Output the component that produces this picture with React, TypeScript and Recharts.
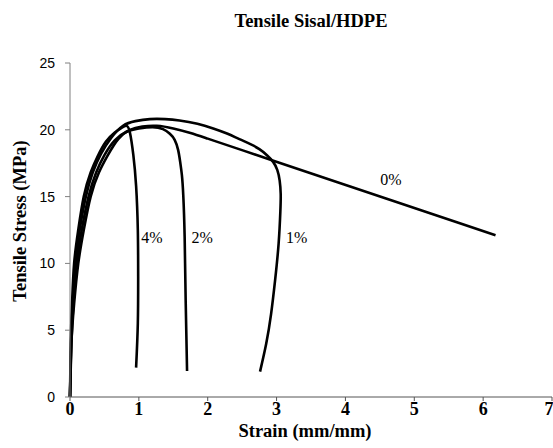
import React from 'react';
import { LineChart, Line, XAxis, YAxis, ReferenceDot, Label } from 'recharts';

const xTicks = [0, 1, 2, 3, 4, 5, 6, 7];
const yTicks = [0, 5, 10, 15, 20, 25];

const curve4 = [
  { x: 0, y: 0 }, { x: 0.01, y: 4 }, { x: 0.03, y: 7 }, { x: 0.06, y: 10 }, { x: 0.12, y: 12.5 },
  { x: 0.2, y: 15 }, { x: 0.3, y: 16.8 }, { x: 0.4, y: 18 }, { x: 0.52, y: 19.1 }, { x: 0.65, y: 19.8 },
  { x: 0.75, y: 20.15 }, { x: 0.82, y: 20.3 }, { x: 0.87, y: 19.8 }, { x: 0.92, y: 18.1 },
  { x: 0.96, y: 15.8 }, { x: 0.985, y: 12.5 }, { x: 0.99, y: 9 }, { x: 0.985, y: 5.5 }, { x: 0.96, y: 2.2 },
];

const curve2 = [
  { x: 0, y: 0 }, { x: 0.02, y: 4 }, { x: 0.05, y: 7 }, { x: 0.1, y: 10 }, { x: 0.17, y: 12.5 },
  { x: 0.27, y: 15 }, { x: 0.38, y: 16.8 }, { x: 0.5, y: 18.1 }, { x: 0.65, y: 19.2 }, { x: 0.82, y: 19.85 },
  { x: 1.0, y: 20.1 }, { x: 1.2, y: 20.2 }, { x: 1.35, y: 20.05 }, { x: 1.45, y: 19.7 }, { x: 1.52, y: 19.25 },
  { x: 1.57, y: 18.5 }, { x: 1.6, y: 17.6 }, { x: 1.625, y: 16.6 }, { x: 1.645, y: 15.1 }, { x: 1.665, y: 12 },
  { x: 1.68, y: 7.2 }, { x: 1.7, y: 1.95 },
];

const curve1 = [
  { x: 0, y: 0 }, { x: 0.015, y: 4 }, { x: 0.04, y: 7 }, { x: 0.08, y: 10 }, { x: 0.14, y: 12.5 },
  { x: 0.23, y: 15 }, { x: 0.33, y: 16.8 }, { x: 0.45, y: 18.2 }, { x: 0.6, y: 19.4 }, { x: 0.77, y: 20.3 },
  { x: 0.95, y: 20.65 }, { x: 1.16, y: 20.8 }, { x: 1.38, y: 20.8 }, { x: 1.59, y: 20.7 }, { x: 1.85, y: 20.45 },
  { x: 2.08, y: 20.1 }, { x: 2.28, y: 19.72 }, { x: 2.46, y: 19.3 }, { x: 2.62, y: 18.93 }, { x: 2.75, y: 18.55 },
  { x: 2.86, y: 18.1 }, { x: 2.95, y: 17.6 }, { x: 3.01, y: 17.0 }, { x: 3.045, y: 16.2 }, { x: 3.06, y: 15.2 },
  { x: 3.055, y: 13.9 }, { x: 3.03, y: 11.5 }, { x: 2.98, y: 8.8 }, { x: 2.92, y: 6.2 }, { x: 2.85, y: 4.0 },
  { x: 2.76, y: 1.9 },
];

const curve0 = [
  { x: 0, y: 0 }, { x: 0.02, y: 4 }, { x: 0.06, y: 7 }, { x: 0.12, y: 10 }, { x: 0.2, y: 12.5 },
  { x: 0.3, y: 15 }, { x: 0.42, y: 16.8 }, { x: 0.55, y: 18.1 }, { x: 0.7, y: 19.3 }, { x: 0.87, y: 20.0 },
  { x: 1.05, y: 20.25 }, { x: 1.26, y: 20.3 }, { x: 1.5, y: 20.1 }, { x: 1.75, y: 19.76 }, { x: 2.0, y: 19.34 },
  { x: 2.52, y: 18.44 }, { x: 3.04, y: 17.54 }, { x: 3.56, y: 16.64 }, { x: 4.08, y: 15.74 }, { x: 4.6, y: 14.84 },
  { x: 5.12, y: 13.94 }, { x: 5.64, y: 13.04 }, { x: 6.18, y: 12.11 },
];

const seriesNames = ['4%', '2%', '1%', '0%'];
const labelX = [1.19, 1.92, 3.29, 4.66];
const labelY = [11.95, 11.95, 11.95, 16.27];

const TITLE = 'Tensile Sisal/HDPE';
const X_TITLE = 'Strain (mm/mm)';
const Y_TITLE = 'Tensile Stress (MPa)';

const SERIF = 'Liberation Serif';
const SANS = 'Liberation Sans';

const curves = [curve4, curve2, curve1, curve0];

const renderXTick = (props: any) => {
  const { x, y, payload } = props;
  return (
    <text x={x} y={y} dy={13} textAnchor="middle" style={{ fontFamily: SERIF, fontWeight: 700, fontSize: 18 }} fill="#000">
      {payload.value}
    </text>
  );
};

const renderYTick = (props: any) => {
  const { x, y, payload } = props;
  return (
    <text x={x} y={y} dy={5} textAnchor="end" style={{ fontFamily: SANS, fontSize: 14 }} fill="#000">
      {payload.value}
    </text>
  );
};

export default function App() {
  return (
    <div style={{ position: 'absolute', left: 0, top: 0, width: 553, height: 448, background: '#fff' }}>
      <LineChart width={553} height={448} margin={{ top: 63, right: 1, bottom: 0, left: 0 }}>
        <XAxis
          type="number"
          dataKey="x"
          domain={[0, 7]}
          ticks={xTicks}
          height={51}
          tickSize={4}
          tickMargin={1}
          stroke="#555"
          tick={renderXTick}
        />
        <YAxis
          type="number"
          dataKey="y"
          domain={[0, 25]}
          ticks={yTicks}
          width={70}
          tickSize={5}
          tickMargin={10}
          stroke="#808080"
          tick={renderYTick}
        />
        {curves.map((d, i) => (
          <Line
            key={seriesNames[i]}
            data={d}
            dataKey="y"
            type="natural"
            stroke="#000"
            strokeWidth={2.6}
            dot={false}
            isAnimationActive={false}
          />
        ))}
        {seriesNames.map((n, i) => (
          <ReferenceDot
            key={'lab' + n}
            x={labelX[i]}
            y={labelY[i]}
            r={0}
            fill="none"
            stroke="none"
            label={
              <Label
                value={n}
                position="center"
                fill="#000"
                style={{ fontFamily: SERIF, fontSize: 16 }}
              />
            }
          />
        ))}
      </LineChart>
      <svg width={553} height={448} style={{ position: 'absolute', left: 0, top: 0, pointerEvents: 'none' }}>
        <text x={311} y={27} textAnchor="middle" style={{ fontFamily: SERIF, fontWeight: 700, fontSize: 18.5 }} fill="#000">
          {TITLE}
        </text>
        <text x={305} y={437} textAnchor="middle" style={{ fontFamily: SERIF, fontWeight: 700, fontSize: 18.5 }} fill="#000">
          {X_TITLE}
        </text>
        <text
          x={0}
          y={0}
          transform="translate(26,221) rotate(-90)"
          textAnchor="middle"
          style={{ fontFamily: SERIF, fontWeight: 700, fontSize: 18.5 }}
          fill="#000"
        >
          {Y_TITLE}
        </text>
      </svg>
    </div>
  );
}
